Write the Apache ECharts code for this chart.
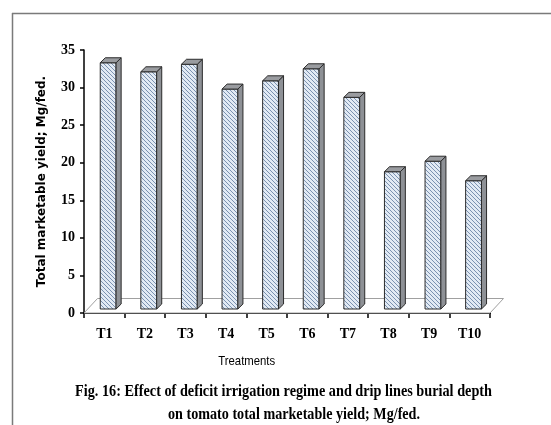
<!DOCTYPE html>
<html><head><meta charset="utf-8">
<script src="https://cdn.jsdelivr.net/npm/echarts@6/dist/echarts.min.js"></script>
<style>html,body{margin:0;padding:0;background:#fff}#c{width:551px;height:425px}</style>
</head><body><div id="c"></div>
<script>
const categories = ['T1','T2','T3','T4','T5','T6','T7','T8','T9','T10'];
const yieldValues = [33.3, 32.1, 33.1, 29.8, 30.9, 32.5, 28.7, 18.8, 20.2, 17.6];
const yMin = 0, yMax = 35, yStep = 5;
const yAxisTitle = 'Total marketable yield; Mg/fed.';
const xAxisTitle = 'Treatments';
const captionLines = ['Fig. 16: Effect of deficit irrigation regime and drip lines burial depth',
                      'on tomato total marketable yield; Mg/fed.'];

// hatch pattern
const pc = document.createElement('canvas'); pc.width = 4; pc.height = 4;
const g = pc.getContext('2d');
g.fillStyle = '#e2eaf4'; g.fillRect(0,0,4,4);
g.strokeStyle = '#6f88a8'; g.lineWidth = 0.9;
g.beginPath(); g.moveTo(-1,-1); g.lineTo(5,5); g.moveTo(3,-1); g.lineTo(5,1); g.moveTo(-1,3); g.lineTo(1,5); g.stroke();
const hatch = {image: pc, repeat: 'repeat'};

function measure(text, font){
  const c = document.createElement('canvas').getContext('2d');
  c.font = font; return c.measureText(text).width;
}
const capFont = 'bold 17px "Liberation Serif"';
const trFont = '13px "Liberation Sans"';

const DEPTH_X = 13.5, DEPTH_Y = 14.5;

function renderBar(params, api){
  const i = api.value(0), v = api.value(1);
  const base = api.coord([i, 0]);
  const top = api.coord([i, v]);
  const band = api.size([1, 0])[0];
  const fw = band * 0.39, dx = band * 0.125, dy = 5;
  const x0 = base[0] - band * 0.1;
  const yb = base[1] - 4, yt = top[1];
  const stroke = '#2b2b2b';
  return {type: 'group', children: [
    {type:'rect', shape:{x:x0, y:yt, width:fw, height:yb-yt}, style:{fill:hatch, stroke:stroke, lineWidth:1}},
    {type:'polygon', shape:{points:[[x0+fw,yt],[x0+fw+dx,yt-dy],[x0+fw+dx,yb-dy],[x0+fw,yb]]}, style:{fill:'#8e9196', stroke:stroke, lineWidth:1}},
    {type:'polygon', shape:{points:[[x0,yt],[x0+dx,yt-dy],[x0+fw+dx,yt-dy],[x0+fw,yt]]}, style:{fill:'#9a9ca0', stroke:stroke, lineWidth:1}}
  ]};
}
function renderFloor(params, api){
  const n = categories.length;
  const band = api.size([1, 0])[0];
  const l = api.coord([0, 0]); const r = api.coord([n-1, 0]);
  const xl = l[0] - band/2, xr = r[0] + band/2, y = l[1];
  return {type:'polygon', shape:{points:[[xl,y],[xl+DEPTH_X,y-DEPTH_Y],[xr+DEPTH_X,y-DEPTH_Y],[xr,y]]},
    style:{fill:'#fff', stroke:'#a0a0a0', lineWidth:1}};
}

const chart = echarts.init(document.getElementById('c'), null, {renderer:'canvas'});
chart.setOption({
  animation: false,
  backgroundColor: '#fff',
  grid: {left: 84, right: 61, top: 50, bottom: 112},
  xAxis: {type:'category', data: categories, boundaryGap: true,
    axisLine:{lineStyle:{color:'#000', width:2}},
    axisTick:{show:true, length:5, lineStyle:{color:'#000', width:1.5}},
    axisLabel:{color:'#000', fontFamily:'Liberation Serif', fontWeight:'bold', fontSize:14, margin:14},
    splitLine:{show:false}},
  yAxis: {type:'value', min:yMin, max:yMax, interval:yStep,
    name: yAxisTitle, nameLocation:'middle', nameGap:36, nameRotate:90,
    nameTextStyle:{color:'#000', fontFamily:'DejaVu Sans', fontWeight:'bold', fontSize:12},
    axisLine:{show:true, lineStyle:{color:'#000', width:1.5}},
    axisTick:{show:true, length:4, lineStyle:{color:'#000', width:1.5}},
    axisLabel:{color:'#000', fontFamily:'Liberation Serif', fontWeight:'bold', fontSize:14, margin:9},
    splitLine:{show:false}},
  series: [
    {type:'custom', z:1, renderItem: renderFloor, data:[[0,0]], silent:true},
    {type:'custom', z:2, renderItem: renderBar, data: yieldValues.map((v,i)=>[i,v])}
  ],
  graphic: [
    {type:'line', shape:{x1:12.5, y1:13, x2:12.5, y2:425}, style:{stroke:'#7a7a7a', lineWidth:1.5}},
    {type:'line', shape:{x1:12, y1:13.5, x2:551, y2:13.5}, style:{stroke:'#7a7a7a', lineWidth:1.5}},
    {type:'text', x:246.7, y:361.7, scaleX: 57/measure(xAxisTitle, trFont),
      style:{text:xAxisTitle, font:trFont, fill:'#000', textAlign:'center', textVerticalAlign:'middle'}},
    {type:'text', x:283.5, y:391.7, scaleX: 417/measure(captionLines[0], capFont),
      style:{text:captionLines[0], font:capFont, fill:'#000', textAlign:'center', textVerticalAlign:'middle'}},
    {type:'text', x:294, y:414.5, scaleX: 252/measure(captionLines[1], capFont),
      style:{text:captionLines[1], font:capFont, fill:'#000', textAlign:'center', textVerticalAlign:'middle'}}
  ]
});
</script>
</body></html>
